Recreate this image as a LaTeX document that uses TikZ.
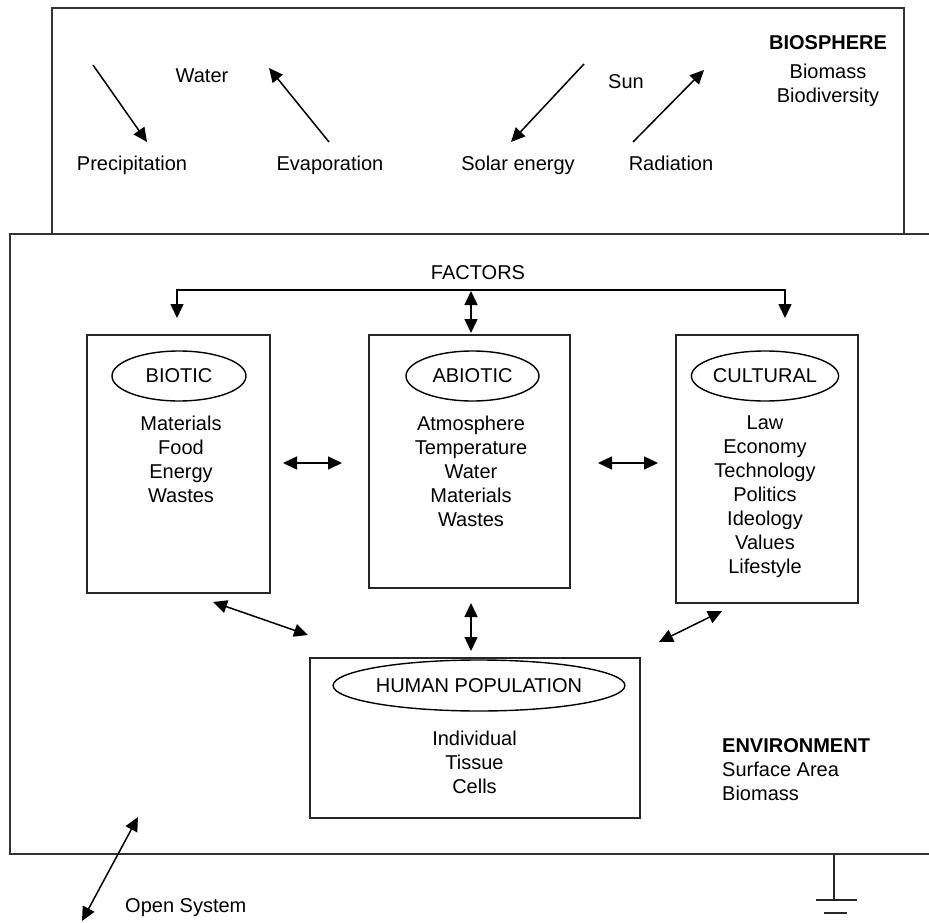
\documentclass[tikz,border=0pt]{standalone}
\usepackage{fontspec}
\setmainfont{Liberation Sans}
\usetikzlibrary{arrows.meta,shapes.geometric}
\tikzset{
  frame/.style={draw=black!80, line width=1.8pt},
  boxnode/.style={draw=black!85, line width=1.7pt, rectangle, anchor=north west, inner sep=0pt},
  oval/.style={draw=black, line width=1.4pt, ellipse, inner sep=0pt, minimum height=50pt},
  txt/.style={font=\fontsize{20}{24}\selectfont, inner sep=0pt, align=center},
  arr/.style={-{Triangle[length=14pt,width=13pt]}, line width=1.5pt},
  darr/.style={{Triangle[length=14pt,width=13pt]}-{Triangle[length=14pt,width=13pt]}, line width=1.5pt},
  plain/.style={line width=1.5pt},
}
\begin{document}
\begin{tikzpicture}[x=1pt,y=-1pt]
\useasboundingbox (0,0) rectangle (929,923);
\fill[white] (0,0) rectangle (929,923);

% frames
\draw[frame] (52,234) -- (52,8) -- (904,8) -- (904,234);
\draw[frame] (929,234) -- (10,234) -- (10,854) -- (929,854);

% biosphere labels
\node[txt, anchor=base] (water) at (202,83) {Water};
\node[txt, anchor=base] (precip) at (132,171) {Precipitation};
\node[txt, anchor=base] (evap) at (330,171) {Evaporation};
\node[txt, anchor=base] (solar) at (518,171) {Solar energy};
\node[txt, anchor=base] (sun) at (626,89) {Sun};
\node[txt, anchor=base] (radiation) at (671,171) {Radiation};
\node[txt, anchor=north] (biosphere) at (828,35) {\textbf{BIOSPHERE}\\[5pt]Biomass\\Biodiversity};

\coordinate (p1) at (93,65);   \coordinate (p2) at (147,142);
\coordinate (e1) at (329,142); \coordinate (e2) at (269,68);
\coordinate (s1) at (584,64);  \coordinate (s2) at (511,142);
\coordinate (r1) at (633,142); \coordinate (r2) at (704,70);
\draw[arr] (p1) -- (p2);
\draw[arr] (e1) -- (e2);
\draw[arr] (s1) -- (s2);
\draw[arr] (r1) -- (r2);

% factor boxes
\node[boxnode, minimum width=183pt, minimum height=258pt] (biotic) at (86,334) {};
\node[boxnode, minimum width=201pt, minimum height=253pt] (abiotic) at (368,334) {};
\node[boxnode, minimum width=182pt, minimum height=268pt] (cultural) at (675,334) {};
\node[boxnode, minimum width=330pt, minimum height=160pt] (human) at (309,657) {};

\node[oval, txt, minimum width=134pt] (bioticlbl) at (179,376) {BIOTIC};
\node[oval, txt, minimum width=133pt] (abioticlbl) at (472.5,376) {ABIOTIC};
\node[oval, txt, minimum width=134pt] (culturallbl) at (765,376) {CULTURAL};
\node[oval, txt, minimum width=264pt, minimum height=51pt] (humanlbl) at (479,685.5) {HUMAN POPULATION};

\node[txt, anchor=north] (bioticlist) at (181,416) {Materials\\Food\\Energy\\Wastes};
\node[txt, anchor=north] (abioticlist) at (471,416) {Atmosphere\\Temperature\\Water\\Materials\\Wastes};
\node[txt, anchor=north] (culturallist) at (765,416) {Law\\Economy\\Technology\\Politics\\Ideology\\Values\\Lifestyle};
\node[txt, anchor=north] (humanlist) at (474.5,731) {Individual\\Tissue\\Cells};

\node[txt, anchor=base] (factors) at (478,279) {FACTORS};
\node[txt, anchor=north west, align=left] (environment) at (722,738) {\textbf{ENVIRONMENT}\\Surface Area\\Biomass};
\node[txt, anchor=base west] (opensys) at (125,912) {Open System};

% factors connector
\coordinate (fl) at (177,290); \coordinate (fr) at (785,290);
\coordinate (fld) at (177,318); \coordinate (frd) at (785,318);
\coordinate (fm) at (471,291); \coordinate (fmd) at (471,333);
\draw[darr] (fld) -- (fl) -- (fr) -- (frd);
\draw[darr] (fm) -- (fmd);

% between boxes
\coordinate (h1a) at (283,463); \coordinate (h1b) at (342,463);
\coordinate (h2a) at (598,463); \coordinate (h2b) at (658,463);
\draw[darr] (h1a) -- (h1b);
\draw[darr] (h2a) -- (h2b);

\coordinate (d1a) at (213,602); \coordinate (d1b) at (308,635);
\coordinate (va) at (471,603);  \coordinate (vb) at (471,651);
\coordinate (d2a) at (722,611); \coordinate (d2b) at (659,642);
\draw[darr] (d1a) -- (d1b);
\draw[darr] (va) -- (vb);
\draw[darr] (d2a) -- (d2b);

% open system
\coordinate (o1) at (82,921); \coordinate (o2) at (138,817);
\draw[darr] (o1) -- (o2);

% ground
\coordinate (g0) at (834,854); \coordinate (g1) at (834,899);
\draw[plain, black!85] (g0) -- (g1);
\draw[plain, black!85] (816,900) -- (857,900);
\draw[plain, black!85] (824,913) -- (847,913);
\end{tikzpicture}
\end{document}
